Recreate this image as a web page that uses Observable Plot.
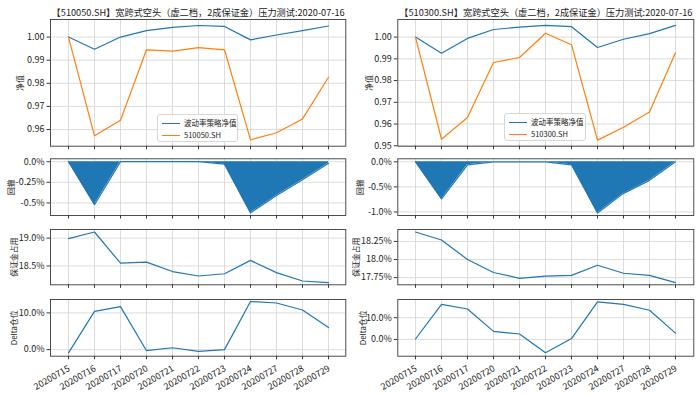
<!DOCTYPE html>
<html><head><meta charset="utf-8">
<script src="https://cdn.jsdelivr.net/npm/d3@7"></script>
<script src="https://cdn.jsdelivr.net/npm/@observablehq/plot@0.6"></script>
<style>
body{margin:0;background:#fff;}
#chart{position:relative;width:700px;height:394px;overflow:hidden;font-family:"Noto Sans CJK SC",sans-serif;}
#chart svg{position:absolute;}
.legend{position:absolute;box-sizing:border-box;border:1px solid #d6d6d6;border-radius:3px;background:rgba(255,255,255,0.85);font-size:7.5px;color:#222;}
.legend .row{position:absolute;left:0;height:10px;line-height:10px;white-space:nowrap;}
.legend .sw{position:absolute;left:4px;top:5px;width:18px;height:0;border-top:1.3px solid;}
.legend .lb{position:absolute;left:26px;top:0;}
</style></head>
<body><div id="chart"></div>
<script>
const dates = ["20200715","20200716","20200717","20200720","20200721","20200722","20200723","20200724","20200727","20200728","20200729"];

// 510050.SH
const titleA = "【510050.SH】宽跨式空头（虚二档，2成保证金）压力测试:2020-07-16";
const seriesA = ["波动率策略净值", "510050.SH"];
const navA    = [1.0000, 0.9947, 1.0000, 1.0028, 1.0042, 1.0050, 1.0046, 0.9988, 1.0009, 1.0028, 1.0048];
const etfA    = [1.0000, 0.9573, 0.9640, 0.9945, 0.9939, 0.9954, 0.9945, 0.9555, 0.9586, 0.9646, 0.9826];
const ddA     = [0, -0.0052, 0, 0, 0, 0, -0.0003, -0.0062, -0.0041, -0.0022, -0.0002];
const marginA = [0.1899, 0.1911, 0.1855, 0.1857, 0.1840, 0.1832, 0.1836, 0.1860, 0.1838, 0.1823, 0.1820];
const deltaA  = [-0.009, 0.104, 0.117, -0.003, 0.005, -0.005, 0.000, 0.131, 0.127, 0.108, 0.060];

// 510300.SH
const titleB = "【510300.SH】宽跨式空头（虚二档，2成保证金）压力测试:2020-07-16";
const seriesB = ["波动率策略净值", "510300.SH"];
const navB    = [1.0000, 0.9926, 0.9994, 1.0035, 1.0046, 1.0054, 1.0048, 0.9952, 0.9990, 1.0016, 1.0054];
const etfB    = [1.0000, 0.9530, 0.9630, 0.9883, 0.9906, 1.0018, 0.9965, 0.9526, 0.9585, 0.9655, 0.9928];
const ddB     = [0, -0.0074, -0.0006, 0, 0, 0, -0.0006, -0.0102, -0.0063, -0.0037, 0];
const marginB = [0.1838, 0.1827, 0.1800, 0.1782, 0.1774, 0.1777, 0.1778, 0.1792, 0.1781, 0.1778, 0.1768];
const deltaB  = [0.002, 0.161, 0.140, 0.037, 0.025, -0.061, 0.004, 0.173, 0.161, 0.134, 0.029];

const yLabels = ["净值", "回撤", "保证金占用", "Delta仓位"];

// tick values and labels
const navTicksA = [0.96, 0.97, 0.98, 0.99, 1.00], navLabA = ["0.96","0.97","0.98","0.99","1.00"];
const navTicksB = [0.95, 0.96, 0.97, 0.98, 0.99, 1.00], navLabB = ["0.95","0.96","0.97","0.98","0.99","1.00"];
const ddTicksA = [0, -0.0025, -0.005], ddLabA = ["0.0%","-0.25%","-0.5%"];
const ddTicksB = [0, -0.005, -0.01], ddLabB = ["0.0%","-0.5%","-1.0%"];
const mgTicksA = [0.185, 0.19], mgLabA = ["18.5%","19.0%"];
const mgTicksB = [0.1775, 0.18, 0.1825], mgLabB = ["17.75%","18.0%","18.25%"];
const dlTicks = [0, 0.1], dlLab = ["0.0%","10.0%"];

const BLUE = "#1f77b4", ORANGE = "#ff7f0e", GRID = "#d3d3d3", FRAME = "#3a3a3a", TXT = "#222";
const FONT = '"Noto Sans CJK SC", sans-serif';

function table(nav, etf, dd, mg, dl) {
  return dates.map((d, i) => ({date: d, nav: nav[i], etf: etf[i], dd: dd[i], mg: mg[i], dl: dl[i]}));
}
const rowsA = table(navA, etfA, ddA, marginA, deltaA);
const rowsB = table(navB, etfB, ddB, marginB, deltaB);

const chart = document.getElementById("chart");

function panel(o) {
  const height = o.mt + o.fh + o.mb;
  const marks = [
    Plot.gridX(dates, {stroke: GRID, strokeOpacity: 1, strokeWidth: 0.8}),
    Plot.gridY(o.yticks, {stroke: GRID, strokeOpacity: 1, strokeWidth: 0.8}),
    ...o.marks,
    Plot.frame({stroke: FRAME, strokeWidth: 0.9}),
    Plot.axisY(o.yticks, {tickSize: 3.5, tickPadding: 2.5, stroke: FRAME, fill: TXT, label: null, fontSize: 9,
      tickFormat: d => o.ylabels[o.yticks.indexOf(d)]}),
    Plot.axisX(dates, {tickSize: 3.5, stroke: FRAME, label: null, tickFormat: () => ""}),
    Plot.text([o.ylabel], {frameAnchor: "left", rotate: -90, dx: o.ldx, textAnchor: "middle", lineAnchor: "middle", fill: TXT, fontSize: 7.8})
  ];
  if (o.xlabels) marks.push(Plot.text(dates, {x: d => d, frameAnchor: "bottom", rotate: -30, textAnchor: "end", lineAnchor: "top", dx: -1, dy: 8.5, fill: TXT, fontSize: 9}));
  if (o.title) marks.push(Plot.text([o.title], {frameAnchor: "top", dy: -3.5, lineAnchor: "bottom", fill: TXT, fontSize: 9.2}));
  const svg = Plot.plot({
    width: 350, height,
    marginLeft: o.ml, marginRight: o.mr, marginTop: o.mt, marginBottom: o.mb,
    style: {fontFamily: FONT, fontSize: "9px", background: "transparent", overflow: "visible", color: TXT},
    x: {type: "point", domain: dates, padding: 0.5},
    y: {domain: o.ydomain},
    marks
  });
  svg.style.left = o.left + "px";
  svg.style.top = o.top + "px";
  chart.appendChild(svg);
}

function legend(left, top, w, names) {
  const div = document.createElement("div");
  div.className = "legend";
  div.style.left = left + "px"; div.style.top = top + "px";
  div.style.width = w + "px"; div.style.height = "28px";
  [BLUE, ORANGE].forEach((c, i) => {
    const r = document.createElement("div");
    r.className = "row"; r.style.top = (3 + i * 12) + "px"; r.style.width = "100%";
    r.innerHTML = `<span class="sw" style="border-color:${c}"></span><span class="lb">${names[i]}</span>`;
    div.appendChild(r);
  });
  chart.appendChild(div);
}

const cols = [
  {left: 0, ml: 50, mr: 4.7, rows: rowsA, title: titleA, series: seriesA,
   nav: [navTicksA, navLabA, [0.9528, 1.0076], -30.5],
   dd: [ddTicksA, ddLabA, [-0.00652, 0.00035], -39.5],
   mg: [mgTicksA, mgLabA, [0.18162, 0.19155], -36.5],
   dl: [dlTicks, dlLab, [-0.018, 0.1365], -36],
   leg: [157, 114, 81]},
  {left: 350, ml: 47.3, mr: 6.7, rows: rowsB, title: titleB, series: seriesB,
   nav: [navTicksB, navLabB, [0.9498, 1.0081], -28.5],
   dd: [ddTicksB, ddLabB, [-0.01071, 0.0006], -37],
   mg: [mgTicksB, mgLabB, [0.1765, 0.18415], -41.5],
   dl: [dlTicks, dlLab, [-0.077, 0.1835], -34],
   leg: [504, 113, 82]}
];

for (const c of cols) {
  const base = {left: c.left, ml: c.ml, mr: c.mr};
  panel({...base, top: 0, mt: 19, fh: 126.7, mb: 6.3, title: c.title,
    yticks: c.nav[0], ylabels: c.nav[1], ydomain: c.nav[2], ldx: c.nav[3], ylabel: yLabels[0],
    marks: [
      Plot.line(c.rows, {x: "date", y: "nav", stroke: BLUE, strokeWidth: 1.2}),
      Plot.line(c.rows, {x: "date", y: "etf", stroke: ORANGE, strokeWidth: 1.2})
    ]});
  panel({...base, top: 152, mt: 6.3, fh: 56.7, mb: 6,
    yticks: c.dd[0], ylabels: c.dd[1], ydomain: c.dd[2], ldx: c.dd[3], ylabel: yLabels[1],
    marks: [
      Plot.areaY(c.rows, {x: "date", y: "dd", fill: BLUE}),
      Plot.line(c.rows, {x: "date", y: "dd", stroke: BLUE, strokeWidth: 1.2})
    ]});
  panel({...base, top: 221, mt: 8, fh: 55.3, mb: 6.7,
    yticks: c.mg[0], ylabels: c.mg[1], ydomain: c.mg[2], ldx: c.mg[3], ylabel: yLabels[2],
    marks: [Plot.line(c.rows, {x: "date", y: "mg", stroke: BLUE, strokeWidth: 1.2})]});
  panel({...base, top: 291, mt: 8, fh: 56.7, mb: 38.3, xlabels: true,
    yticks: c.dl[0], ylabels: c.dl[1], ydomain: c.dl[2], ldx: c.dl[3], ylabel: yLabels[3],
    marks: [Plot.line(c.rows, {x: "date", y: "dl", stroke: BLUE, strokeWidth: 1.2})]});
  legend(c.leg[0], c.leg[1], c.leg[2], c.series);
}
</script></body></html>
